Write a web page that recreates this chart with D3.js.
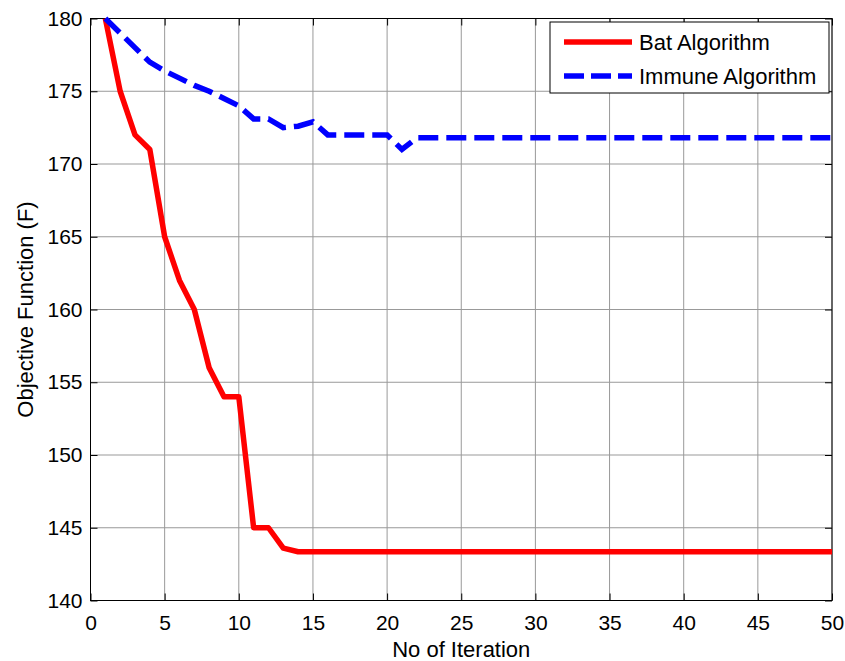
<!DOCTYPE html>
<html>
<head>
<meta charset="utf-8">
<script src="https://cdn.jsdelivr.net/npm/d3@7"></script>
<style>
body{margin:0;background:#fff;}
text{font-family:"Liberation Sans",Arial,sans-serif;fill:#000;}
</style>
</head>
<body>
<svg id="svg" width="845" height="661"></svg>
<script>
var iterations = d3.range(1,51);
var batValues = [180,175,172,171,165,162,160,156,154,154,145,145,143.6,143.35,143.35,143.35,143.35,143.35,143.35,143.35,
  143.35,143.35,143.35,143.35,143.35,143.35,143.35,143.35,143.35,143.35,143.35,143.35,143.35,143.35,143.35,
  143.35,143.35,143.35,143.35,143.35,143.35,143.35,143.35,143.35,143.35,143.35,143.35,143.35,143.35,143.35];
var immuneValues = [180,179,178,177,176.4,175.9,175.4,175,174.5,174,173.1,173.1,172.5,172.6,172.9,172,172,172,172,172,
  171,171.8,171.8,171.8,171.8,171.8,171.8,171.8,171.8,171.8,171.8,171.8,171.8,171.8,171.8,
  171.8,171.8,171.8,171.8,171.8,171.8,171.8,171.8,171.8,171.8,171.8,171.8,171.8,171.8,171.8];
var xTicks = [0,5,10,15,20,25,30,35,40,45,50];
var yTicks = [140,145,150,155,160,165,170,175,180];
var seriesNames = ["Bat Algorithm","Immune Algorithm"];

var plotLeft = 90.5, plotRight = 832, plotTop = 18.5, plotBottom = 600.5;
var tickLen = 7;

var x = d3.scaleLinear().domain([0,50]).range([plotLeft,plotRight]);
var y = d3.scaleLinear().domain([140,180]).range([plotBottom,plotTop]);

var svg = d3.select("#svg");

// grid
svg.append("g").selectAll("line").data(xTicks).enter().append("line")
  .attr("x1",function(d){return x(d);}).attr("x2",function(d){return x(d);})
  .attr("y1",plotTop).attr("y2",plotBottom)
  .attr("stroke","#999").attr("stroke-width",1);
svg.append("g").selectAll("line").data(yTicks).enter().append("line")
  .attr("y1",function(d){return y(d);}).attr("y2",function(d){return y(d);})
  .attr("x1",plotLeft).attr("x2",plotRight)
  .attr("stroke","#999").attr("stroke-width",1);

// ticks on all four sides, pointing in
var bottomAxis = d3.axisBottom(x).tickValues(xTicks).tickSizeInner(-tickLen).tickSizeOuter(0).tickPadding(15);
var topAxis = d3.axisTop(x).tickValues(xTicks).tickSizeInner(-tickLen).tickSizeOuter(0).tickFormat("");
var leftAxis = d3.axisLeft(y).tickValues(yTicks).tickSizeInner(-tickLen).tickSizeOuter(0).tickPadding(8);
var rightAxis = d3.axisRight(y).tickValues(yTicks).tickSizeInner(-tickLen).tickSizeOuter(0).tickFormat("");

function styleAxis(g){
  g.select(".domain").remove();
  g.selectAll(".tick line").attr("stroke","#000");
  g.selectAll(".tick text").attr("font-size","21px").attr("font-family","Liberation Sans, Arial, sans-serif").attr("fill","#000");
}
svg.append("g").attr("transform","translate(0,"+plotBottom+")").call(bottomAxis).call(styleAxis);
svg.append("g").attr("transform","translate(0,"+plotTop+")").call(topAxis).call(styleAxis);
svg.append("g").attr("transform","translate("+plotLeft+",0)").call(leftAxis).call(styleAxis);
svg.append("g").attr("transform","translate("+plotRight+",0)").call(rightAxis).call(styleAxis);

// box
svg.append("rect").attr("x",plotLeft).attr("y",plotTop).attr("width",plotRight-plotLeft).attr("height",plotBottom-plotTop)
  .attr("fill","none").attr("stroke","#000").attr("stroke-width",1);

// lines
var line = d3.line().x(function(d){return x(d[0]);}).y(function(d){return y(d[1]);});
svg.append("path").datum(d3.zip(iterations,batValues)).attr("d",line)
  .attr("fill","none").attr("stroke","#ff0000").attr("stroke-width",5.5).attr("stroke-linejoin","round");
svg.append("path").datum(d3.zip(iterations,immuneValues)).attr("d",line)
  .attr("fill","none").attr("stroke","#0000ff").attr("stroke-width",5.5).attr("stroke-dasharray","20,8");

// axis labels
svg.append("text").attr("x",(plotLeft+plotRight)/2).attr("y",657).attr("text-anchor","middle")
  .attr("font-size","22px").text("No of Iteration");
svg.append("text").attr("transform","translate(33,"+((plotTop+plotBottom)/2)+") rotate(-90)").attr("text-anchor","middle")
  .attr("font-size","22px").text("Objective Function (F)");

// legend
var legend = svg.append("g");
legend.append("rect").attr("x",550).attr("y",22).attr("width",279).attr("height",71)
  .attr("fill","#fff").attr("stroke","#000").attr("stroke-width",1);
var colors = ["#ff0000","#0000ff"];
var dashes = [null,"20,7"];
seriesNames.forEach(function(name,i){
  var cy = 42 + i*34;
  legend.append("line").attr("x1",564).attr("x2",632).attr("y1",cy).attr("y2",cy)
    .attr("stroke",colors[i]).attr("stroke-width",5.5).attr("stroke-dasharray",dashes[i]);
  legend.append("text").attr("x",639).attr("y",cy+8).attr("font-size","22px").text(name);
});
</script>
</body>
</html>
